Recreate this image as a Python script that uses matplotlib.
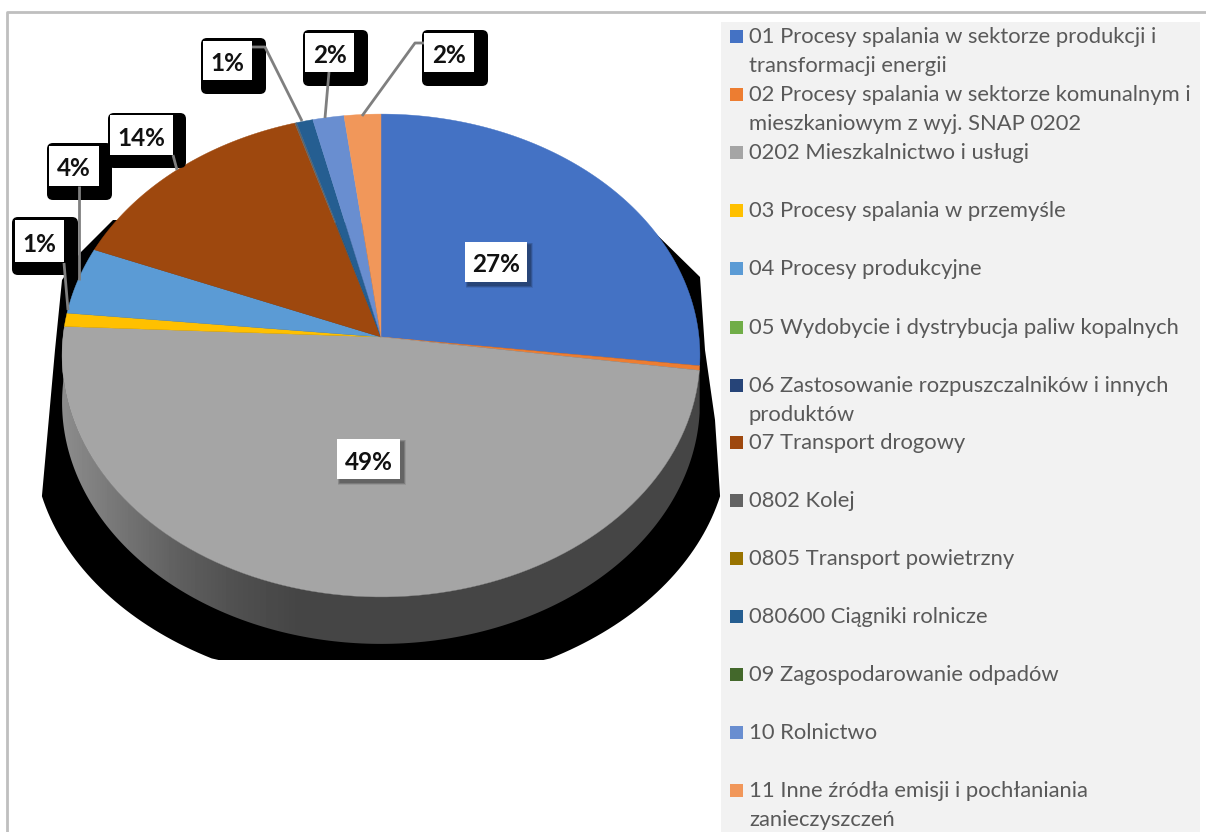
import numpy as np
import matplotlib
matplotlib.use('Agg')
import matplotlib.pyplot as plt
from matplotlib.patches import Rectangle, FancyBboxPatch, Polygon

plt.rcParams['font.family'] = ['Lato', 'DejaVu Sans']

categories = ['01 Procesy spalania w sektorze produkcji i\ntransformacji energii',
              '02 Procesy spalania w sektorze komunalnym i\nmieszkaniowym z wyj. SNAP 0202',
              '0202 Mieszkalnictwo i usługi',
              '03 Procesy spalania w przemyśle',
              '04 Procesy produkcyjne',
              '05 Wydobycie i dystrybucja paliw kopalnych',
              '06 Zastosowanie rozpuszczalników i innych\nproduktów',
              '07 Transport drogowy',
              '0802 Kolej',
              '0805 Transport powietrzny',
              '080600 Ciągniki rolnicze',
              '09 Zagospodarowanie odpadów',
              '10 Rolnictwo',
              '11 Inne źródła emisji i pochłaniania\nzanieczyszczeń']
values = [26.9, 0.3, 48.51, 0.9, 4.5, 0.0, 0.0, 14.2, 0.1, 0.0, 0.9, 0.0, 1.7, 2.0]
colors = ['#4472c4', '#ed7d31', '#a5a5a5', '#ffc000', '#5b9bd5', '#70ad47', '#264478',
          '#9e480e', '#636363', '#997300', '#255e91', '#43682b', '#698ed0', '#f1975a']
legend_y = [36, 94, 152, 210, 268, 327, 385, 442, 500, 558, 616, 674, 732, 790]

# pie seen in perspective, pixels of the picture
cx, cy = 381, 337
rx, ry = 318, 240
k = 0.0766
depth = 47


def rim(theta):
    w = 1 + k * np.cos(theta)
    return cx + rx * np.sin(theta) / w, cy - ry * np.cos(theta) / w


fig = plt.figure(figsize=(12.06, 8.32), dpi=100)
ax = fig.add_axes([0, 0, 1, 1])
ax.set_xlim(0, 1206)
ax.set_ylim(832, 0)
ax.axis('off')

# frame and legend background
ax.plot([7, 7, 1206], [832, 12, 12], color='#bfbfbf', lw=2, zorder=1)
ax.add_patch(Rectangle((721, 22), 479, 810, color='#f2f2f2', lw=0, zorder=1))

# hard black shadow under the pie
t = np.linspace(np.radians(193), np.radians(347), 120)
ex = np.clip(381 + 348 * np.cos(t), 41, 721)
ey = np.minimum(440 - 250 * np.sin(t), 660)
sx = np.r_[113, 80, 62, 55, ex, 715, 705, 700, 649]
sy = np.r_[220, 253, 280, 350, ey, 420, 350, 277, 227]
ax.fill(sx, sy, color='black', lw=0, zorder=2)

# side of the pie (only the big grey slice is seen)
fracs = np.cumsum([0] + values) / sum(values)
a0 = 2 * np.pi * fracs[1]
a1 = 2 * np.pi * fracs[3]
t = np.linspace(a0, a1, 200)
x, y = rim(t)
side = np.c_[np.r_[x, x[::-1]], np.r_[y, y[::-1] + depth]]
grad = np.interp(np.arange(41, 722), [55, 120, 180, 240, 300, 721],
                 [0.56, 0.46, 0.37, 0.31, 0.27, 0.27])
im = ax.imshow(grad[None, :], extent=(41, 722, 700, 300), cmap='gray', vmin=0, vmax=1,
               aspect='auto', zorder=3)
im.set_clip_path(Polygon(side, transform=ax.transData))
ax.set_xlim(0, 1206)
ax.set_ylim(832, 0)

# top of the pie
for i, val in enumerate(values):
    if val == 0:
        continue
    t = np.linspace(2 * np.pi * fracs[i], 2 * np.pi * fracs[i + 1], 100)
    x, y = rim(t)
    ax.fill(np.r_[cx, x], np.r_[cy, y], color=colors[i], lw=0.3, zorder=4)

# leader lines
leaders = [([64, 68], [263, 310]), ([79, 79], [186, 280]), ([173, 177], [155, 170]),
           ([252, 265, 302], [47, 47, 121]), ([329, 325], [72, 118]),
           ([424, 415, 362], [43, 43, 116])]
for lx, ly in leaders:
    ax.plot(lx, ly, color='#7f7f7f', lw=2, zorder=7, solid_capstyle='butt')

# data labels: index of slice, white box, black box behind
boxes = [(3, (15, 220, 49, 42), (12, 217, 66, 58)),
         (4, (49, 146, 50, 40), (47, 143, 65, 57)),
         (7, (110, 115, 63, 40), (108, 113, 78, 55)),
         (10, (203, 41, 49, 39), (201, 38, 65, 56)),
         (12, (305, 33, 49, 39), (303, 30, 65, 56)),
         (13, (424, 33, 50, 39), (422, 30, 66, 56))]
for i, white, black in boxes:
    bx, by, bw, bh = black
    ax.add_patch(FancyBboxPatch((bx + 6, by + 6), bw - 12, bh - 12, boxstyle='round,pad=6',
                                fc='black', ec='none', zorder=5))
for i, white, black in boxes:
    wx, wy, ww, wh = white
    ax.add_patch(Rectangle((wx, wy), ww, wh, fc='white', ec='none', zorder=6))
    ax.text(wx + ww / 2, wy + wh / 2 + 1, '%d%%' % round(values[i]), ha='center', va='center_baseline',
            fontsize=17.5, fontweight='bold', color='#111111', zorder=8)

for i, (wx, wy, ww, wh) in [(0, (465, 242, 62, 40)), (2, (337, 439, 63, 40))]:
    for g in range(5, 0, -1):
        ax.add_patch(Rectangle((wx + 3 - g / 2, wy + 3 - g / 2), ww + g, wh + g, fc='black',
                               alpha=0.09, ec='none', zorder=5))
    ax.add_patch(Rectangle((wx, wy), ww, wh, fc='white', ec='none', zorder=6))
    ax.text(wx + ww / 2, wy + wh / 2 + 1, '%d%%' % round(values[i]), ha='center', va='center_baseline',
            fontsize=17.5, fontweight='bold', color='#111111', zorder=8)

# legend
for name, col, ly in zip(categories, colors, legend_y):
    ax.add_patch(Rectangle((730, ly - 6.5), 13, 13, fc=col, ec='none', zorder=2))
    ax.text(749, ly - 9, name, ha='left', va='top', fontsize=15.8, color='#595959',
            linespacing=1.54, zorder=3)

fig.savefig('out.png', dpi=100)
